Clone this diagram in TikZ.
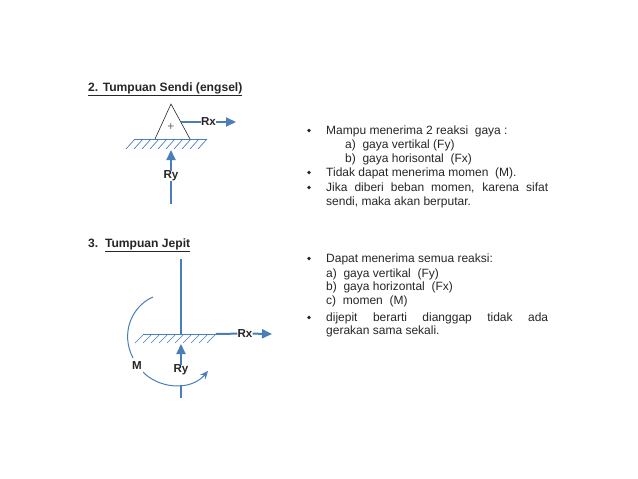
\documentclass[tikz,border=0pt]{standalone}
\usepackage{fontspec}
\setmainfont{Liberation Sans}
\usepackage{tikz}
\usetikzlibrary{shapes.geometric,arrows.meta}
\definecolor{beamblue}{HTML}{4A7EBB}
\definecolor{inkgrey}{HTML}{262626}
\tikzset{
  listtext/.style={anchor=west, inner sep=0pt, text height=9pt, text depth=1pt, text=inkgrey, font=\fontsize{12}{14}\selectfont},
  headtext/.style={anchor=west, inner sep=0pt, text height=9pt, text depth=1pt, text=inkgrey, font=\fontsize{12.1}{14}\selectfont\bfseries},
  forcetext/.style={inner sep=0pt, text=inkgrey, font=\fontsize{11.6}{14}\selectfont\bfseries},
  dotmark/.style={circle, fill=inkgrey, inner sep=0pt, minimum size=3.8pt},
  thinline/.style={draw=beamblue, line width=0.9pt},
  forceline/.style={draw=beamblue, line width=2pt},
  forcearrow/.style={draw=beamblue, line width=2pt, -{Triangle[length=10pt,width=9pt]}},
  momentline/.style={draw=beamblue, line width=1pt}
}
\newcommand{\listline}[3] {\node at (#1) (#2) [listtext] {#3};}
\newcommand{\listbullet}[2] {\node at (#1) (#2) [dotmark] {};}
\newcommand{\forcelabel}[3] {\node at (#1) (#2) [forcetext] {#3};}
\newcommand{\groundline}[3] {\draw [thinline] (#1,#2) -- (#1+73,#2);
  \foreach \i in {0,...,9} {\draw [thinline, line width=0.7pt] (#1+\i*8+1,#2) -- (#1+\i*8-8,#2+#3);}}

\begin{document}
\begin{tikzpicture}[x=1pt,y=-1pt]
\useasboundingbox (0,0) rectangle (638,479);

% tumpuan sendi
\node at (88,87) (head2) [headtext] {\underline{2. Tumpuan Sendi (engsel)}};
\groundline{134}{139}{10};
\coordinate (apex) at (171,104);
\coordinate (baseL) at (155,139);
\coordinate (baseR) at (190,139);
\draw [draw=inkgrey, line width=0.6pt] (baseL) -- (apex) -- (baseR);
\node at (171,127) (plus) [inner sep=0pt, text=inkgrey!70, font=\fontsize{12}{14}\selectfont] {+};
\forcelabel{208.5,122}{rx2}{Rx};
\coordinate (hinge2) at (181,122);
\coordinate (rx2tip) at (236,122);
\draw [forceline] (hinge2) -- (rx2);
\draw [forcearrow] (rx2) -- (rx2tip);
\forcelabel{171,176}{ry2}{Ry};
\coordinate (ry2tail) at (171,204);
\coordinate (ry2tip) at (171,150);
\draw [forceline] (ry2tail) -- (ry2);
\draw [forcearrow] (ry2) -- (ry2tip);

\listbullet{309,130.5}{b21};
\listline{326,130}{t21}{Mampu menerima 2 reaksi\ \ gaya :};
\listline{345,144}{t22}{a)\ \ gaya vertikal (Fy)};
\listline{345,158}{t23}{b)\ \ gaya horisontal\ \ (Fx)};
\listbullet{309,172.5}{b22};
\listline{326,172}{t24}{Tidak dapat menerima momen\ \ (M).};
\listbullet{309,187.5}{b23};
\listline{326,187}{t25}{\makebox[222pt][s]{Jika diberi beban momen, karena sifat}};
\listline{326,201}{t26}{sendi, maka akan berputar.};

% tumpuan jepit
\node at (88,243) (head3) [headtext] {3.\ \ \underline{Tumpuan Jepit}};
\groundline{143}{334}{9};
\coordinate (bartop) at (181,259);
\coordinate (barfoot) at (181,334);
\draw [draw=beamblue, line width=2.6pt] (bartop) -- (barfoot);
\forcelabel{245,333.5}{rx3}{Rx};
\coordinate (rx3start) at (216,334);
\coordinate (rx3tip) at (272,334);
\draw [forceline] (rx3start) -- (rx3);
\draw [forcearrow] (rx3) -- (rx3tip);
\forcelabel{181,370}{ry3}{Ry};
\coordinate (ry3tail) at (181,398);
\coordinate (ry3gap) at (181,385);
\coordinate (ry3tip) at (181,344);
\draw [forceline, line width=1.6pt] (ry3tail) -- (ry3gap);
\draw [forcearrow] (ry3) -- (ry3tip);
\forcelabel{137,366}{m3}{M};
\coordinate (mstart) at (153,297);
\coordinate (mmid) at (133,358);
\coordinate (mlow) at (143,372);
\coordinate (mend) at (208,371);
\draw [momentline] (mstart) .. controls (132,306) and (120,333) .. (mmid);
\draw [momentline, -{Stealth[length=8pt,width=7pt]}] (mlow) .. controls (158,388) and (190,392) .. (mend);

\listbullet{309,258.5}{b31};
\listline{326,258}{t31}{Dapat menerima semua reaksi:};
\listline{326,273}{t32}{a)\ \ gaya vertikal\ \ (Fy)};
\listline{326,286}{t33}{b)\ \ gaya horizontal\ \ (Fx)};
\listline{326,300}{t34}{c)\ \ momen\ \ (M)};
\listbullet{309,317.5}{b32};
\listline{326,317}{t35}{\makebox[222pt][s]{dijepit berarti dianggap tidak ada}};
\listline{326,330}{t36}{gerakan sama sekali.};

\end{tikzpicture}
\end{document}
